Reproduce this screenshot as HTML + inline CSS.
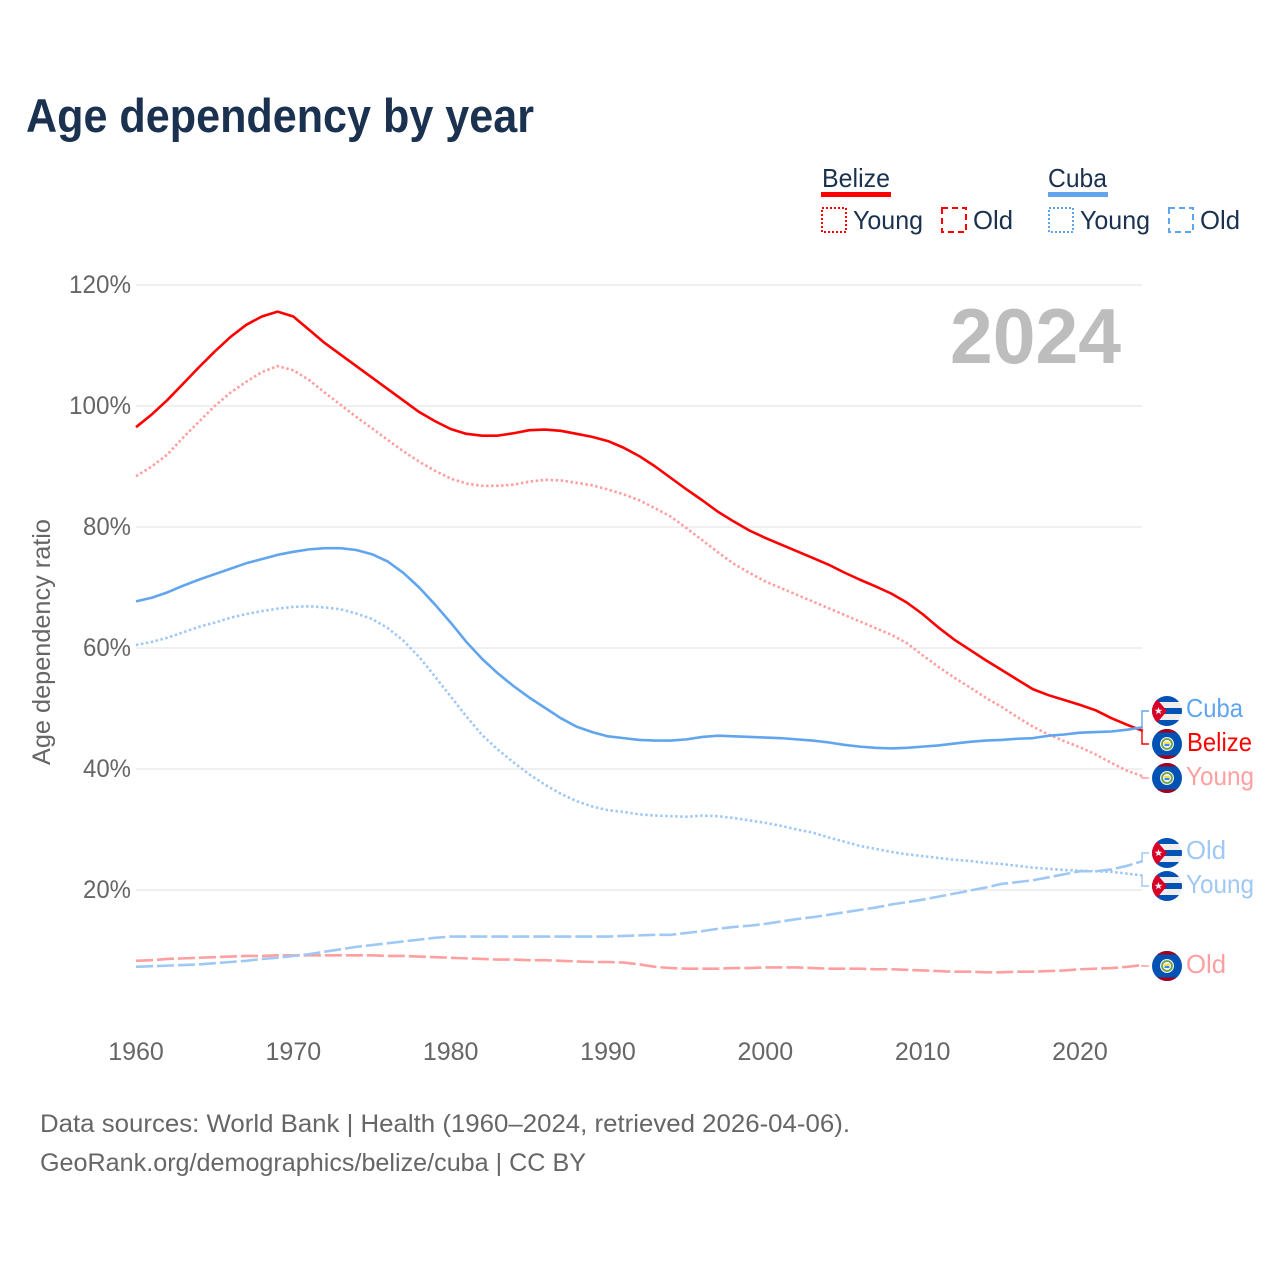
<!DOCTYPE html>
<html lang="en">
<head>
<meta charset="utf-8">
<title>Age dependency by year</title>
<style>
html,body{margin:0;padding:0;background:#fff}
svg{display:block;font-family:"Liberation Sans",sans-serif}
</style>
</head>
<body>
<svg id="chart" xmlns="http://www.w3.org/2000/svg" width="1280" height="1280" viewBox="0 0 1280 1280">
<defs>
<clipPath id="flag-clip"><circle cx="0" cy="0" r="15"/></clipPath>
<symbol id="flag-cuba" viewBox="-15 -15 30 30" overflow="visible">
<g clip-path="url(#flag-clip)">
<rect x="-15" y="-15" width="30" height="30" fill="#eeeeee"/>
<rect x="-15" y="-15" width="30" height="6" fill="#0052b4"/>
<rect x="-15" y="-3" width="30" height="6" fill="#0052b4"/>
<rect x="-15" y="9" width="30" height="6" fill="#0052b4"/>
<polygon points="-15,-15 -11,-13 0,0 -11,13 -15,15" fill="#d80027"/>
<polygon points="-8.5,-4 -7.5,-1.2 -4.6,-1.2 -6.9,0.5 -6,3.3 -8.5,1.6 -11,3.3 -10.1,0.5 -12.4,-1.2 -9.5,-1.2" fill="#f0f0f0"/>
</g>
</symbol>
<symbol id="flag-belize" viewBox="-15 -15 30 30" overflow="visible">
<g clip-path="url(#flag-clip)">
<rect x="-15" y="-15" width="30" height="30" fill="#0052b4"/>
<rect x="-15" y="-15" width="30" height="3.5" fill="#a2001d"/>
<rect x="-15" y="11.5" width="30" height="3.5" fill="#a2001d"/>
<circle r="7" fill="#f0f0f0"/>
<circle r="5" fill="none" stroke="#6da544" stroke-width="1.8"/>
<circle r="3.2" fill="#f0f0f0"/>
<rect x="-2.6" y="-2" width="5.2" height="2" fill="#ffda44"/>
<rect x="-2.4" y="0" width="4.8" height="2" fill="#338af3"/>
</g>
</symbol>
</defs>

<rect width="1280" height="1280" fill="#ffffff"/>

<text x="26" y="132" font-size="47" font-weight="700" fill="#1a3150" textLength="508" lengthAdjust="spacingAndGlyphs">Age dependency by year</text>

<g font-size="26" fill="#1a3150">
<text x="822" y="187" textLength="68" lengthAdjust="spacingAndGlyphs">Belize</text>
<rect x="821" y="192" width="70" height="5" fill="#ff0000"/>
<text x="1048" y="187" textLength="59" lengthAdjust="spacingAndGlyphs">Cuba</text>
<rect x="1048" y="192" width="60" height="5" fill="#60a5ee"/>

<rect x="822" y="208" width="24" height="24" fill="none" stroke="#ff0000" stroke-width="2" stroke-dasharray="2 2"/>
<text x="853" y="229" textLength="70" lengthAdjust="spacingAndGlyphs">Young</text>
<rect x="942" y="208" width="24" height="24" fill="none" stroke="#ff0000" stroke-width="2" stroke-dasharray="6 4"/>
<text x="973" y="229" textLength="40" lengthAdjust="spacingAndGlyphs">Old</text>

<rect x="1049" y="208" width="24" height="24" fill="none" stroke="#60a5ee" stroke-width="2" stroke-dasharray="2 2"/>
<text x="1080" y="229" textLength="70" lengthAdjust="spacingAndGlyphs">Young</text>
<rect x="1169" y="208" width="24" height="24" fill="none" stroke="#60a5ee" stroke-width="2" stroke-dasharray="6 4"/>
<text x="1200" y="229" textLength="40" lengthAdjust="spacingAndGlyphs">Old</text>
</g>

<g id="grid"></g>
<g id="y-ticks"></g>
<g id="x-ticks"></g>

<text transform="translate(50 642) rotate(-90)" text-anchor="middle" font-size="25" fill="#666666" textLength="246" lengthAdjust="spacingAndGlyphs">Age dependency ratio</text>

<text x="950" y="363" font-size="78" font-weight="700" fill="#bdbdbd" textLength="171" lengthAdjust="spacingAndGlyphs">2024</text>

<g id="connectors"></g>
<g id="series"></g>

<g font-size="26">
<use href="#flag-cuba" x="1152" y="696" width="30" height="30"/>
<text x="1186" y="717" fill="#60a5ee" textLength="57" lengthAdjust="spacingAndGlyphs">Cuba</text>
<use href="#flag-belize" x="1152" y="729" width="30" height="30"/>
<text x="1187" y="751" fill="#ff0000" textLength="65" lengthAdjust="spacingAndGlyphs">Belize</text>
<use href="#flag-belize" x="1152" y="763" width="30" height="30"/>
<text x="1186" y="785" fill="#ff9f9f" textLength="68" lengthAdjust="spacingAndGlyphs">Young</text>
<use href="#flag-cuba" x="1152" y="838" width="30" height="30"/>
<text x="1186" y="859" fill="#a0c8f4" textLength="40" lengthAdjust="spacingAndGlyphs">Old</text>
<use href="#flag-cuba" x="1152" y="871" width="30" height="30"/>
<text x="1186" y="893" fill="#a0c8f4" textLength="68" lengthAdjust="spacingAndGlyphs">Young</text>
<use href="#flag-belize" x="1152" y="951" width="30" height="30"/>
<text x="1186" y="973" fill="#ff9f9f" textLength="40" lengthAdjust="spacingAndGlyphs">Old</text>
</g>

<text x="40" y="1132" font-size="25" fill="#666666" textLength="810" lengthAdjust="spacingAndGlyphs">Data sources: World Bank | Health (1960–2024, retrieved 2026-04-06).</text>
<text x="40" y="1171" font-size="25" fill="#666666" textLength="546" lengthAdjust="spacingAndGlyphs">GeoRank.org/demographics/belize/cuba | CC BY</text>
</svg>

<script>
const firstYear = 1960;
const xTickYears = [1960, 1970, 1980, 1990, 2000, 2010, 2020];
const yTickValues = [20, 40, 60, 80, 100, 120];

const belizeTotal = [96.5,98.6,101,103.7,106.4,109,111.4,113.4,114.8,115.6,114.8,112.6,110.4,108.5,106.6,104.7,102.8,100.9,99,97.5,96.2,95.4,95.1,95.1,95.5,96,96.1,95.9,95.4,94.9,94.2,93.1,91.7,90,88.1,86.2,84.4,82.5,80.9,79.4,78.2,77.1,76,74.9,73.8,72.5,71.3,70.2,69,67.5,65.6,63.4,61.4,59.7,58,56.4,54.8,53.2,52.2,51.4,50.6,49.7,48.4,47.3,46.3];
const belizeYoung = [88.4,90,92,94.8,97.4,100,102.2,104,105.6,106.6,105.9,104.3,102.2,100.2,98.2,96.3,94.4,92.5,90.8,89.3,88,87.2,86.8,86.8,87,87.5,87.8,87.7,87.3,86.9,86.2,85.4,84.4,83.1,81.7,79.8,77.8,75.8,73.9,72.4,71,69.9,68.8,67.7,66.6,65.5,64.4,63.3,62.2,60.8,58.8,56.9,55.1,53.5,51.8,50.3,48.6,47,45.7,44.6,43.6,42.4,41,39.7,38.8];
const belizeOld = [8.3,8.4,8.6,8.7,8.8,8.9,9,9.1,9.1,9.2,9.2,9.2,9.2,9.2,9.2,9.2,9.1,9.1,9,8.9,8.8,8.7,8.6,8.5,8.5,8.4,8.4,8.3,8.2,8.1,8.1,8,7.7,7.3,7.1,7,7,7,7.1,7.1,7.2,7.2,7.2,7.1,7,7,7,6.9,6.9,6.8,6.7,6.6,6.5,6.5,6.4,6.4,6.5,6.5,6.6,6.7,6.9,7,7.1,7.3,7.6];
const cubaTotal = [67.7,68.3,69.2,70.3,71.3,72.2,73.1,74,74.7,75.4,75.9,76.3,76.5,76.5,76.2,75.5,74.3,72.4,70,67.2,64.2,61,58.2,55.8,53.7,51.8,50.1,48.4,47,46.1,45.4,45.1,44.8,44.7,44.7,44.9,45.3,45.5,45.4,45.3,45.2,45.1,44.9,44.7,44.4,44,43.7,43.5,43.4,43.5,43.7,43.9,44.2,44.5,44.7,44.8,45,45.1,45.5,45.7,46,46.1,46.2,46.5,46.9];
const cubaYoung = [60.5,61,61.7,62.6,63.5,64.2,65,65.6,66.1,66.5,66.8,66.9,66.7,66.4,65.7,64.8,63.3,61.2,58.5,55.3,52,48.7,45.6,43.2,41.1,39.1,37.4,35.9,34.7,33.8,33.2,32.9,32.5,32.3,32.2,32.1,32.3,32.2,31.9,31.5,31.1,30.6,30,29.5,28.7,28,27.3,26.8,26.3,25.9,25.6,25.3,25,24.8,24.5,24.3,24,23.7,23.5,23.3,23.2,23.1,23,22.7,22.4];
const cubaOld = [7.3,7.4,7.5,7.6,7.7,7.9,8.1,8.3,8.6,8.8,9.1,9.4,9.8,10.2,10.6,10.9,11.2,11.5,11.8,12.1,12.3,12.3,12.3,12.3,12.3,12.3,12.3,12.3,12.3,12.3,12.3,12.4,12.5,12.6,12.6,12.9,13.2,13.6,13.9,14.1,14.4,14.8,15.2,15.5,15.9,16.3,16.7,17.1,17.6,18,18.4,18.9,19.4,19.9,20.4,21,21.3,21.6,22.1,22.6,23.1,23.1,23.4,24,24.8];

const svgNS = 'http://www.w3.org/2000/svg';
const xScale = function (year) { return 136 + (year - 1960) * 15.733; };
const yScale = function (value) { return 1011 - value * 6.05; };

function make(tag, parentId) {
  const node = document.createElementNS(svgNS, tag);
  document.getElementById(parentId).appendChild(node);
  return node;
}

yTickValues.forEach(function (v) {
  const line = make('line', 'grid');
  
  
  line.setAttribute('x1', 136);
  line.setAttribute('x2', 1142);
  line.setAttribute('y1', yScale(v));
  line.setAttribute('y2', yScale(v));
  line.setAttribute('stroke', '#e8e8e8');
  line.setAttribute('stroke-width', '1.2');

  const label = make('text', 'y-ticks');
  
  
  label.setAttribute('x', 131);
  label.setAttribute('y', yScale(v) + 8);
  label.setAttribute('text-anchor', 'end');
  label.setAttribute('font-size', '25');
  label.setAttribute('fill', '#666666');
  label.setAttribute('textLength', v >= 100 ? 62 : 48);
  label.setAttribute('lengthAdjust', 'spacingAndGlyphs');
  label.textContent = v + '%';
});

xTickYears.forEach(function (year) {
  const label = make('text', 'x-ticks');
  
  
  label.setAttribute('x', xScale(year));
  label.setAttribute('y', 1060);
  label.setAttribute('text-anchor', 'middle');
  label.setAttribute('font-size', '25');
  label.setAttribute('fill', '#666666');
  label.textContent = year;
});

function linePath(values) {
  return values.map(function (v, i) {
    return (i ? 'L' : 'M') + xScale(firstYear + i).toFixed(2) + ' ' + yScale(v).toFixed(2);
  }).join(' ');
}

function drawLine(values, name, color, dash) {
  const p = make('path', 'series');
  
  
  p.setAttribute('d', linePath(values));
  p.setAttribute('fill', 'none');
  p.setAttribute('stroke', color);
  p.setAttribute('stroke-width', '2.6');
  p.setAttribute('stroke-linejoin', 'round');
  if (dash) p.setAttribute('stroke-dasharray', dash);
}

function drawConnector(values, labelY, color) {
  const p = make('path', 'connectors');
  
  
  const endY = yScale(values[values.length - 1]);
  p.setAttribute('d', 'M1142 ' + endY.toFixed(1) + ' L1142 ' + labelY + ' L1149 ' + labelY);
  p.setAttribute('fill', 'none');
  p.setAttribute('stroke', color);
  p.setAttribute('stroke-width', '1.4');
}

drawConnector(cubaTotal, 711, '#60a5ee');
drawConnector(belizeTotal, 744, '#ff0000');
drawConnector(belizeYoung, 778, '#ff9f9f');
drawConnector(cubaOld, 853, '#a0c8f4');
drawConnector(cubaYoung, 886, '#a0c8f4');
drawConnector(belizeOld, 966, '#ff9f9f');

drawLine(belizeYoung, 'line-belize-young', '#ff9f9f', '2.5 2.5');
drawLine(belizeOld, 'line-belize-old', '#ff9f9f', '17 4');
drawLine(cubaYoung, 'line-cuba-young', '#a0c8f4', '2.5 2.5');
drawLine(cubaOld, 'line-cuba-old', '#a0c8f4', '17 4');
drawLine(belizeTotal, 'line-belize-total', '#ff0000', '');
drawLine(cubaTotal, 'line-cuba-total', '#60a5ee', '');
</script>
</body>
</html>
